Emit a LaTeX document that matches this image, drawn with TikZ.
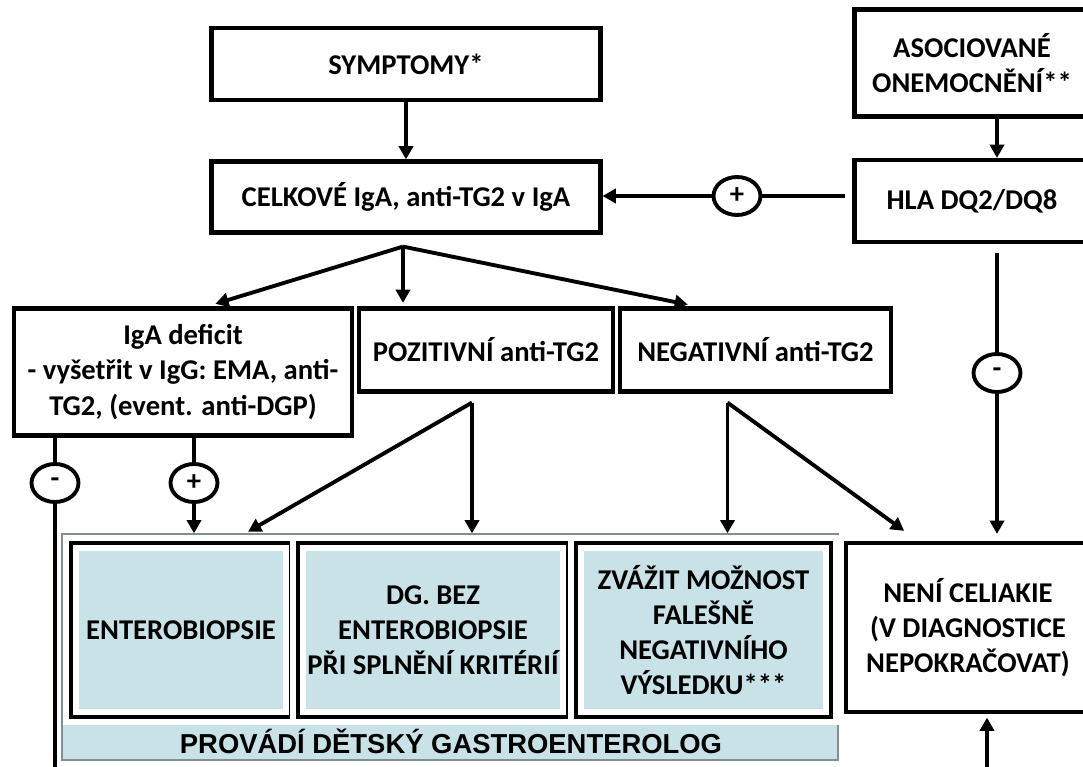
\documentclass[tikz,border=0pt]{standalone}
\usepackage{fontspec}
\setmainfont{Carlito}
\newfontfamily\arialfont{Liberation Sans}
\usepackage{tikz}
\usetikzlibrary{calc,arrows.meta,positioning,shapes.geometric}
\definecolor{cellblue}{HTML}{C9E2E7}
\definecolor{cellframe}{HTML}{7F8F93}

\begin{document}
\begin{tikzpicture}[x=0.02cm, y=-0.02cm,
  every node/.style={font=\bfseries\fontsize{16.3}{20}\selectfont, align=center, inner sep=2pt},
  flowbox/.style={draw, line width=2.4pt, fill=white},
  gastrobox/.style={draw, line width=2.6pt, fill=white, preaction={draw=white, line width=9pt},
    path picture={\fill[cellblue] ([shift={(4.5pt,4.5pt)}]path picture bounding box.south west) rectangle ([shift={(-4.5pt,-4.5pt)}]path picture bounding box.north east);}},
  signnode/.style={draw, ellipse, line width=2.2pt, fill=white, minimum width=0.94cm, minimum height=0.76cm, inner sep=0pt},
  link/.style={line width=2.2pt},
  arr/.style={link, -{Triangle[length=7.5pt, width=8pt]}}]
\clip (0,0) rectangle (1083,767);
\node[flowbox, minimum width=7.78cm, minimum height=1.44cm] (symp) at (406,64) {SYMPTOMY*};
\node[flowbox, minimum width=7.78cm, minimum height=1.42cm] (celk) at (406,197) {CELKOVÉ IgA, anti-TG2 v IgA};
\node[flowbox, minimum width=4.7cm, minimum height=2.14cm] (asoc) at (972,63) {ASOCIOVANÉ\\ONEMOCNĚNÍ**};
\node[flowbox, minimum width=4.7cm, minimum height=1.64cm] (hla) at (972,201) {HLA DQ2/DQ8};
\node[flowbox, minimum width=6.76cm, minimum height=2.54cm] (igad) at (183,372) {IgA deficit\\- vyšetřit v IgG: EMA, anti-\\TG2, (event. anti-DGP)};
\node[flowbox, minimum width=5.08cm, minimum height=1.66cm] (pos) at (486,350) {POZITIVNÍ anti-TG2};
\node[flowbox, minimum width=5.42cm, minimum height=1.66cm] (neg) at (755.5,350) {NEGATIVNÍ anti-TG2};
\node[draw=cellframe, line width=0.8pt, fill=cellblue, minimum width=15.52cm, minimum height=4.52cm] (grp) at (450,647) {};
\node[gastrobox, minimum width=4.4cm, minimum height=3.48cm] (enter) at (181,630) {ENTEROBIOPSIE};
\node[gastrobox, minimum width=5.4cm, minimum height=3.48cm] (dgbez) at (433,630) {DG. BEZ\\ENTEROBIOPSIE\\PŘI SPLNĚNÍ KRITÉRIÍ};
\node[gastrobox, minimum width=5.1cm, minimum height=3.48cm] (zvaz) at (703.5,630) {ZVÁŽIT MOŽNOST\\FALEŠNĚ\\NEGATIVNÍHO\\VÝSLEDKU***};
\node[font=\arialfont\bfseries\fontsize{15.6}{18}\selectfont] (gastro) at (451,741) {PROVÁDÍ DĚTSKÝ GASTROENTEROLOG};
\node[flowbox, minimum width=4.88cm, minimum height=3.38cm] (neni) at (968,627.5) {NENÍ CELIAKIE\\(V DIAGNOSTICE\\NEPOKRAČOVAT)};
\node[signnode] (hlaplus) at (737,196) {+};
\node[signnode] (hlaminus) at (997,373) {-};
\node[signnode] (igaminus) at (55,483) {-};
\node[signnode] (igaplus) at (194,483) {+};
\coordinate (celkfork) at ($(celk.south)+(-3,12)$);
\coordinate (posfork) at ($(pos.south)+(-14,9)$);
\coordinate (negfork) at ($(neg.south)+(-28,9)$);
\coordinate (loopbase) at (0,772);
\draw[arr] (symp) -- (celk);
\draw[arr] (asoc.south -| hlaminus) -- (hla.north -| hlaminus);
\draw[link, shorten <=4.5pt] (hla.west |- hlaplus) -- (hlaplus);
\draw[arr] (hlaplus) -- (celk.east |- hlaplus);
\draw[link, shorten <=5pt] (hla.south -| hlaminus) -- (hlaminus);
\draw[arr, shorten >=4pt] (hlaminus) -- (neni.north -| hlaminus);
\draw[arr, shorten >=5pt] (celkfork) -- ($(igad.north)+(24,0)$);
\draw[arr, shorten >=2pt] (celkfork) -- (celkfork |- pos.north);
\draw[arr, shorten >=5pt] (celkfork) -- ($(neg.north)+(-59,0)$);
\draw[link] (igad.south -| igaplus) -- (igaplus);
\draw[arr] (igaplus) -- (igaplus |- grp.north);
\draw[link] (igad.south -| igaminus) -- (igaminus);
\draw[arr, shorten >=2pt] (igaminus) -- (igaminus |- loopbase) -| ($(neni.south)+(19,0)$);
\draw[arr] (posfork) -- ($(enter.north)+(67,-9)$);
\draw[arr] (posfork) -- (posfork |- grp.north);
\draw[arr] (negfork) -- (negfork |- grp.north);
\draw[arr, shorten >=2pt] (negfork) -- ($(neni.north)+(-61,-8)$);
\end{tikzpicture}
\end{document}
